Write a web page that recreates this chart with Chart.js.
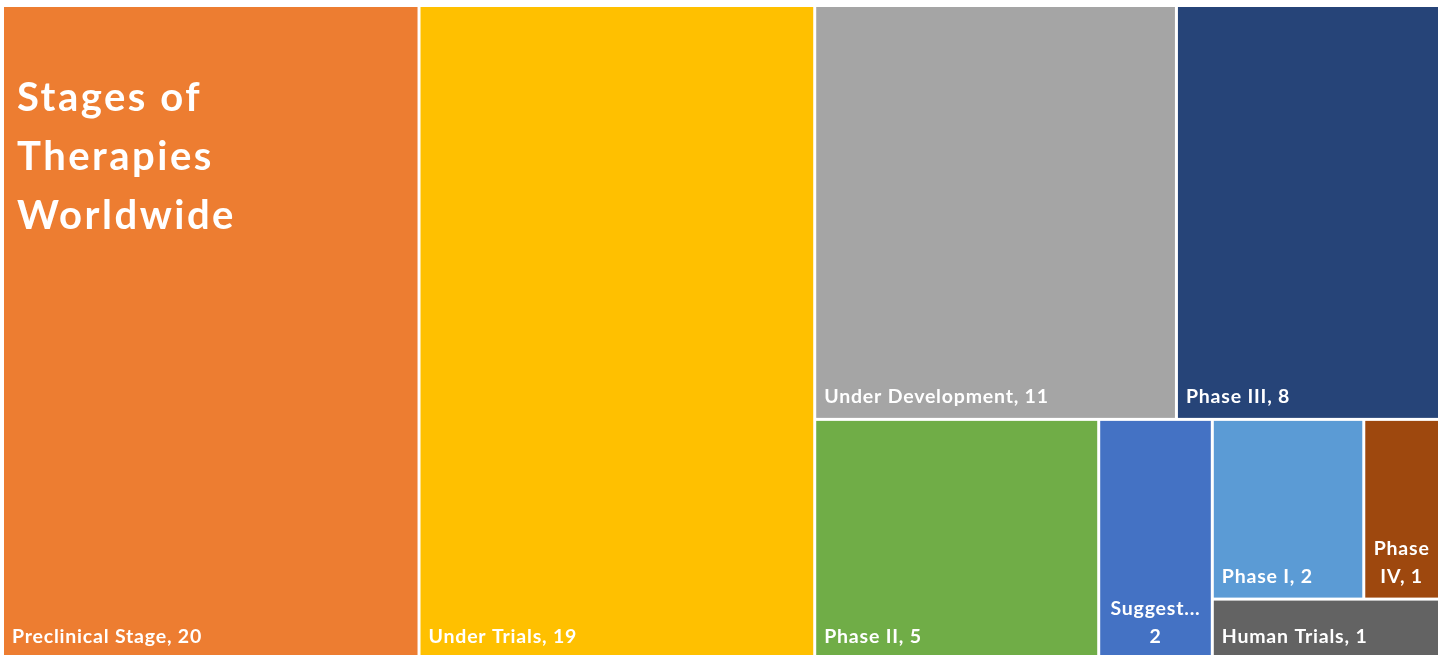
<!DOCTYPE html>
<html>
<head>
<meta charset="utf-8">
<script src="https://cdn.jsdelivr.net/npm/chart.js@4.4.1/dist/chart.umd.min.js"></script>
<style>
  html, body { margin: 0; padding: 0; background: #ffffff; overflow: hidden; }
  #wrap { width: 1446px; height: 655px; overflow: hidden; position: relative; }
  canvas { display: block; }
</style>
</head>
<body>
<div id="wrap"><canvas id="chart" width="1446" height="660"></canvas></div>
<script>
// ---- Data ----
const categories = ["Preclinical Stage", "Under Trials", "Under Development", "Phase III", "Phase II", "Suggested", "Phase I", "Phase IV", "Human Trials"];
const values = [20, 19, 11, 8, 5, 2, 2, 1, 1];
const colors = ["#ED7D31", "#FFC000", "#A5A5A5", "#264478", "#70AD47", "#4472C4", "#5B9BD5", "#9E480E", "#636363"];
const titleLines = ["Stages of", "Therapies", "Worldwide"];

const LABEL_FONT = "bold 19.5px Lato, 'Open Sans', sans-serif";
const LABEL_SPACING = "0.8px";
const TITLE_FONT = "bold 40px Lato, 'Open Sans', sans-serif";
const TITLE_SPACING = "2.5px";

// Recursive binary split treemap layout in scale units (x: 0..100, y: 0..100 from top)
function layoutTreemap(area) {
  const order = values.map((v, i) => i).sort((a, b) => values[b] - values[a]);
  const cells = new Array(values.length);
  const pxPerX = area.width / 100, pxPerY = area.height / 100;
  function split(idx, x0, y0, x1, y1) {
    if (idx.length === 1) { cells[idx[0]] = { x0, y0, x1, y1 }; return; }
    const total = idx.reduce((s, i) => s + values[i], 0);
    let acc = 0, k = 0;
    while (k < idx.length - 1) { acc += values[idx[k]]; k++; if (acc > total / 2) break; }
    const first = idx.slice(0, k), second = idx.slice(k);
    const frac = first.reduce((s, i) => s + values[i], 0) / total;
    const w = (x1 - x0) * pxPerX, h = (y1 - y0) * pxPerY;
    if (w >= h) {
      const xm = x0 + (x1 - x0) * frac;
      split(first, x0, y0, xm, y1); split(second, xm, y0, x1, y1);
    } else {
      const ym = y0 + (y1 - y0) * frac;
      split(first, x0, y0, x1, ym); split(second, x0, ym, x1, y1);
    }
  }
  split(order, 0, 0, 100, 100);
  return cells;
}

function fitLine(ctx, text, maxW) {
  if (ctx.measureText(text).width <= maxW) return text;
  let t = text;
  while (t.length > 1 && ctx.measureText(t + "...").width > maxW) t = t.slice(0, -1);
  return t.replace(/[,\s]+$/, "") + "...";
}

function wrapLabel(ctx, text, maxW) {
  if (ctx.measureText(text).width <= maxW) return { lines: [text], wrapped: false };
  const words = text.split(" ");
  const lines = [];
  let cur = "";
  for (const w of words) {
    const test = cur ? cur + " " + w : w;
    if (ctx.measureText(test).width <= maxW || !cur) cur = test;
    else { lines.push(cur); cur = w; }
  }
  if (cur) lines.push(cur);
  return { lines: lines.map(l => fitLine(ctx, l, maxW)), wrapped: true };
}

const treemapPlugin = {
  id: "treemapCells",
  afterDatasetsDraw(chart) {
    const ctx = chart.ctx, xs = chart.scales.x, ys = chart.scales.y;
    const cells = layoutTreemap(chart.chartArea);
    const gap = 1.5;
    ctx.save();
    cells.forEach((c, i) => {
      const L = xs.getPixelForValue(c.x0) + gap, R = xs.getPixelForValue(c.x1) - gap;
      const T = ys.getPixelForValue(c.y0) + gap, B = ys.getPixelForValue(c.y1) - gap;
      ctx.fillStyle = colors[i];
      ctx.fillRect(L, T, R - L, B - T);
      ctx.font = LABEL_FONT;
      ctx.letterSpacing = LABEL_SPACING;
      ctx.fillStyle = "#ffffff";
      ctx.textBaseline = "alphabetic";
      const pad = 8;
      const text = categories[i] + ", " + values[i];
      const res = wrapLabel(ctx, text, R - L - 2 * pad);
      const lineH = 28;
      if (!res.wrapped) {
        ctx.textAlign = "left";
        ctx.fillText(res.lines[0], L + pad, B - 15);
      } else {
        ctx.textAlign = "center";
        const cx = (L + R) / 2;
        res.lines.forEach((ln, j) => {
          ctx.fillText(ln, cx, B - 15 - (res.lines.length - 1 - j) * lineH);
        });
      }
    });
    ctx.font = TITLE_FONT;
    ctx.letterSpacing = TITLE_SPACING;
    ctx.fillStyle = "#ffffff";
    ctx.textAlign = "left";
    const top = chart.chartArea.top;
    titleLines.forEach((t, j) => ctx.fillText(t, 17, top + 105 + j * 59));
    ctx.restore();
  }
};

new Chart(document.getElementById("chart"), {
  type: "scatter",
  data: { datasets: [{ data: [], showLine: false, pointRadius: 0 }] },
  options: {
    responsive: false,
    animation: false,
    events: [],
    layout: { padding: { left: 2.5, top: 5.5, right: 6.5, bottom: 1 } },
    plugins: { legend: { display: false }, tooltip: { enabled: false }, title: { display: false } },
    scales: {
      x: { type: "linear", min: 0, max: 100, display: false },
      y: { type: "linear", min: 0, max: 100, reverse: true, display: false }
    }
  },
  plugins: [treemapPlugin]
});
</script>
</body>
</html>
